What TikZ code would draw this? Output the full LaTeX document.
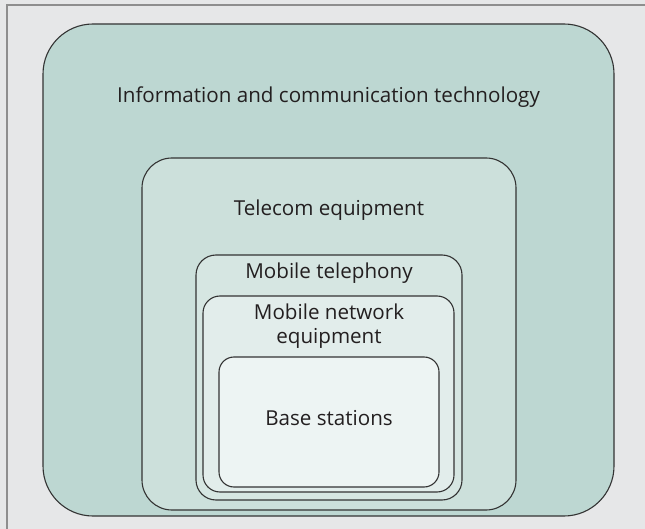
\documentclass[tikz,border=0pt]{standalone}
\usepackage{fontspec}
\setmainfont{Open Sans}
\definecolor{bgc}{HTML}{E6E7E8}
\definecolor{framec}{HTML}{8E8E8E}
\definecolor{ictc}{HTML}{BDD7D2}
\definecolor{telc}{HTML}{CCE0DB}
\definecolor{mtc}{HTML}{D6E6E2}
\definecolor{mnec}{HTML}{E2EDEB}
\definecolor{bsc}{HTML}{EDF4F3}
\definecolor{linec}{HTML}{333333}
\definecolor{textc}{HTML}{231F20}
\begin{document}
\begin{tikzpicture}[x=1pt,y=-1pt,
  box/.style={draw=linec, line width=1.1pt, inner sep=0pt, outer sep=0pt, rectangle},
  lbl/.style={text=textc, font=\fontsize{20.6}{24}\selectfont, inner sep=0pt, align=center}]
\fill[bgc] (0,0) rectangle (645,529);
\useasboundingbox (0,0) rectangle (645,529);
\coordinate (fa) at (7,529);
\coordinate (fb) at (7,5);
\coordinate (fc) at (645,5);
\draw[framec, line width=1.5pt] (fa) -- (fb) -- (fc);
\node[box, fill=ictc, rounded corners=50pt, minimum width=571pt, minimum height=492pt] (ict) at (328.5,270) {};
\node[box, fill=telc, rounded corners=30pt, minimum width=374pt, minimum height=352pt] (tel) at (329,334) {};
\node[box, fill=mtc, rounded corners=20pt, minimum width=266pt, minimum height=245pt] (mt) at (329,377.5) {};
\node[box, fill=mnec, rounded corners=17pt, minimum width=251pt, minimum height=196pt] (mne) at (328.5,394) {};
\node[box, fill=bsc, rounded corners=15pt, minimum width=220pt, minimum height=130pt] (bs) at (329,422) {};
\node[lbl] (tict) at (328.5,97) {Information and communication technology};
\node[lbl] (ttel) at (329,210) {Telecom equipment};
\node[lbl] (tmt) at (329,273) {Mobile telephony};
\node[lbl] (tmne) at (329,326) {Mobile network\\equipment};
\node[lbl] (tbs) at (329,418) {Base stations};
\end{tikzpicture}
\end{document}
